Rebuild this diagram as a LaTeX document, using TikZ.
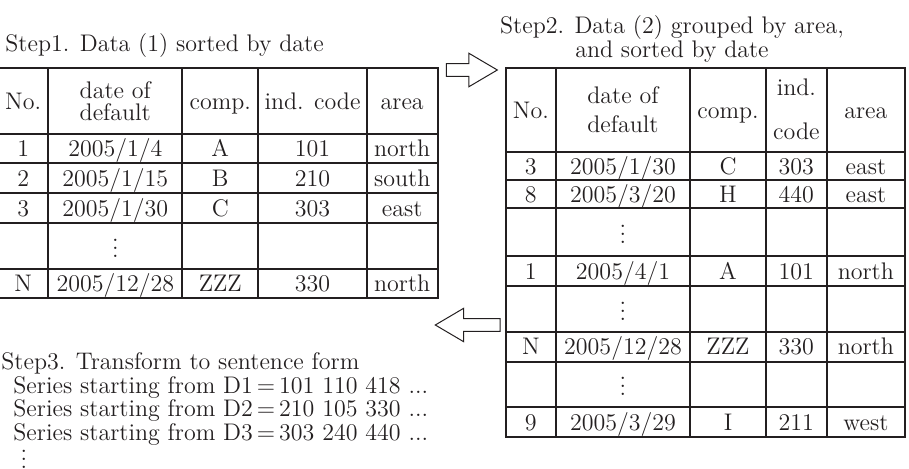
\documentclass[tikz,border=0pt]{standalone}
\usepackage{tikz}
\usetikzlibrary{shapes.arrows}
\definecolor{tabink}{HTML}{231F20}
\newcommand{\hdcell}[3]{\begin{tabular}{@{}c@{}}#1\\[#3]#2\end{tabular}}

\begin{document}
\begin{tikzpicture}[x=0.5pt, y=-0.5pt,
  every node/.style={font=\fontsize{12}{14.5}\selectfont, text=tabink},
  cell/.style={draw=tabink, line width=0.9pt, inner sep=0pt, outer sep=0pt,
               text height=10pt, text depth=1.8pt},
  title/.style={inner sep=0pt, anchor=base west},
  dotsbox/.style={inner sep=0pt, text height=9.5pt, text depth=0pt},
  flowarrow/.style={single arrow, draw=tabink, line width=0.5pt,
                    inner xsep=0pt, inner ysep=2.9pt, minimum width=16.3pt,
                    single arrow head extend=5.2pt, single arrow tip angle=61,
                    anchor=tip}
]
\useasboundingbox (0,0) rectangle (909,469);

\node[title] (t1) at (5,51.7) {Step1. Data (1) sorted by date};
\node[inner sep=0pt, anchor=south, align=center] (t2) at (672,63)
  {Step2. Data (2) grouped by area,\\[-2.5pt]and sorted by date};

\foreach \r/\ya/\yb/\ta/\tb/\tc/\td/\te in {%
  0/68.3/134/{No.}/{\hdcell{date of}{default}{-3.5pt}}/{comp.}/{ind. code}/{area},%
  1/134/163.3/1/{2005/1/4}/A/101/north,%
  2/163.3/193.3/2/{2005/1/15}/B/210/south,%
  3/193.3/222.7/3/{2005/1/30}/C/303/east,%
  4/222.7/269.3/{}/{\raisebox{-1.5pt}{$\vdots$}}/{}/{}/{},%
  5/269.3/298.3/N/{2005/12/28}/ZZZ/330/north%
} {
  \foreach \xa/\xb [count=\k] in {-2/48.3,48.3/182.3,182.3/258.3,258.3/366.7,366.7/437.7}
    \node[cell, minimum width={(\xb-\xa)*0.5pt}, minimum height={(\yb-\ya)*0.5pt}]
      (a\r-\k) at ({(\xa+\xb)/2},{(\ya+\yb)/2})
      {\ifcase\k\or\ta\or\tb\or\tc\or\td\or\te\fi};
}

\foreach \r/\ya/\yb/\ta/\tb/\tc/\td/\te in {%
  0/68.3/151.7/{No.}/{\hdcell{date of}{default}{0pt}}/{comp.}/{\hdcell{ind.}{code}{7.5pt}}/{area},%
  1/151.7/180/3/{2005/1/30}/C/303/east,%
  2/180/208.3/8/{2005/3/20}/H/440/east,%
  3/208.3/256/{}/{\raisebox{-1.5pt}{$\vdots$}}/{}/{}/{},%
  4/256/286/1/{2005/4/1}/A/101/north,%
  5/286/331.7/{}/{\raisebox{-1.5pt}{$\vdots$}}/{}/{}/{},%
  6/331.7/361.7/N/{2005/12/28}/ZZZ/330/north,%
  7/361.7/407.3/{}/{\raisebox{-1.5pt}{$\vdots$}}/{}/{}/{},%
  8/407.3/436.7/9/{2005/3/29}/I/211/west%
} {
  \foreach \xa/\xb [count=\k] in {505.7/556,556/690,690/766,766/826.7,826.7/905}
    \node[cell, minimum width={(\xb-\xa)*0.5pt}, minimum height={(\yb-\ya)*0.5pt}]
      (b\r-\k) at ({(\xa+\xb)/2},{(\ya+\yb)/2})
      {\ifcase\k\or\ta\or\tb\or\tc\or\td\or\te\fi};
}

\node[flowarrow, minimum height=25.5pt] (go) at (498.3,70) {};
\node[flowarrow, minimum height=32.4pt, rotate=180] (back) at (434.3,325) {};

\node[title] (t3) at (1,370) {Step3. Transform to sentence form};
\foreach \i/\v in {1/{101 110 418},2/{210 105 330},3/{303 240 440}}
  \node[title] (d\i) at (13,{370+23.5*\i}) {Series starting from D\i\,$=$\,\v\ ...};
\node[dotsbox] (more) at (24,459) {$\vdots$};
\end{tikzpicture}
\end{document}
